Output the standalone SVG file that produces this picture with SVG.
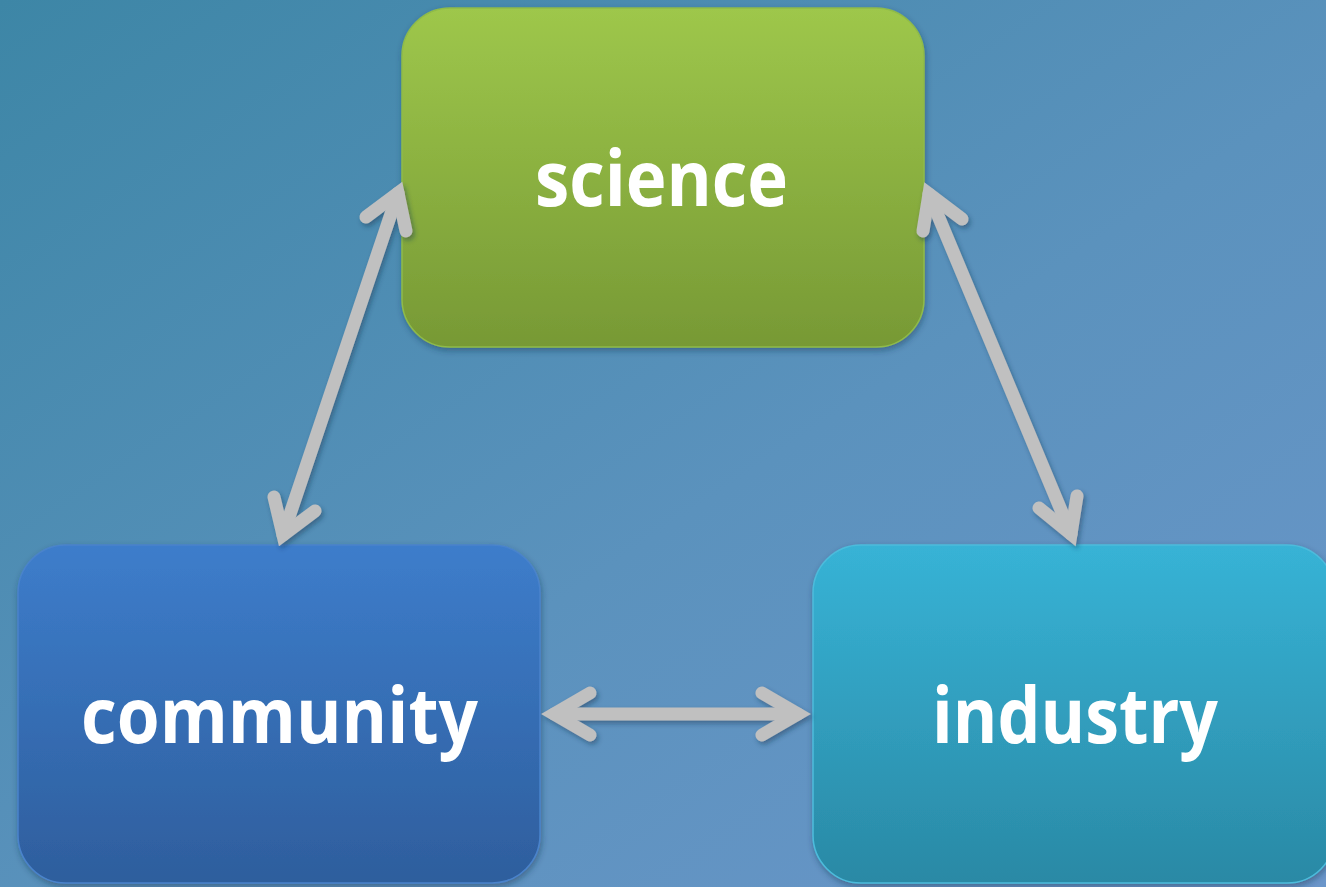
<svg xmlns="http://www.w3.org/2000/svg" width="1326" height="887" viewBox="0 0 1326 887">
  <defs>
    <linearGradient id="bg" x1="0" y1="0" x2="1" y2="1">
      <stop offset="0" stop-color="#3d86a6"/>
      <stop offset="0.55" stop-color="#5b92bd"/>
      <stop offset="1" stop-color="#6b96ca"/>
    </linearGradient>
    <linearGradient id="gSci" x1="0" y1="0" x2="0" y2="1">
      <stop offset="0" stop-color="#9ec74b"/>
      <stop offset="1" stop-color="#779935"/>
    </linearGradient>
    <linearGradient id="gCom" x1="0" y1="0" x2="0" y2="1">
      <stop offset="0" stop-color="#3d7dcb"/>
      <stop offset="1" stop-color="#2e5e9d"/>
    </linearGradient>
    <linearGradient id="gInd" x1="0" y1="0" x2="0" y2="1">
      <stop offset="0" stop-color="#37b3d6"/>
      <stop offset="1" stop-color="#2a89a5"/>
    </linearGradient>
    <filter id="boxShadow" x="-10%" y="-10%" width="120%" height="125%">
      <feDropShadow dx="1" dy="3" stdDeviation="3" flood-color="#1a3050" flood-opacity="0.45"/>
    </filter>
    <filter id="arrowShadow" x="-20%" y="-20%" width="140%" height="140%">
      <feDropShadow dx="2" dy="3" stdDeviation="2.5" flood-color="#1a3050" flood-opacity="0.45"/>
    </filter>
  </defs>
  <style>
    .box { stroke-width: 1.5; }
    .label { font-family: "Open Sans", "Liberation Sans", sans-serif; font-weight: 700; font-size: 77px; fill: #ffffff; }
    .arrow { fill: none; stroke: #c0c0c0; stroke-width: 13; stroke-linecap: round; stroke-linejoin: miter; stroke-miterlimit: 4; }
  </style>

  <rect x="0" y="0" width="1326" height="887" fill="url(#bg)"/>

  <g id="node-science">
    <rect class="box" x="402" y="8" width="522" height="339" rx="48" ry="48" fill="url(#gSci)" stroke="#8fbb48" filter="url(#boxShadow)"/>
    <text class="label" x="535" y="206" textLength="253" lengthAdjust="spacingAndGlyphs">science</text>
  </g>

  <g id="node-community">
    <rect class="box" x="18" y="545" width="522" height="338" rx="48" ry="48" fill="url(#gCom)" stroke="#4a83cc" filter="url(#boxShadow)"/>
    <text class="label" x="81" y="743" textLength="397" lengthAdjust="spacingAndGlyphs">community</text>
  </g>

  <g id="node-industry">
    <rect class="box" x="813" y="545" width="522" height="338" rx="48" ry="48" fill="url(#gInd)" stroke="#4cbcdc" filter="url(#boxShadow)"/>
    <text class="label" x="932" y="743" textLength="286" lengthAdjust="spacingAndGlyphs">industry</text>
  </g>

  <g id="connectors" filter="url(#arrowShadow)">
    <!-- science <-> community -->
    <path class="arrow" d="M398,193 L283,535"/>
    <path class="arrow" d="M366,217 L398,193 L406,231"/>
    <path class="arrow" d="M274,497 L283,535 L315,511"/>
    <!-- science <-> industry -->
    <path class="arrow" d="M929,194 L1071,534"/>
    <path class="arrow" d="M923,231 L929,194 L962,219"/>
    <path class="arrow" d="M1039,508 L1071,534 L1077,496"/>
    <!-- community <-> industry -->
    <path class="arrow" d="M554,714 L798,714"/>
    <path class="arrow" d="M590,693 L554,714 L590,735"/>
    <path class="arrow" d="M762,693 L798,714 L762,735"/>
  </g>
</svg>
